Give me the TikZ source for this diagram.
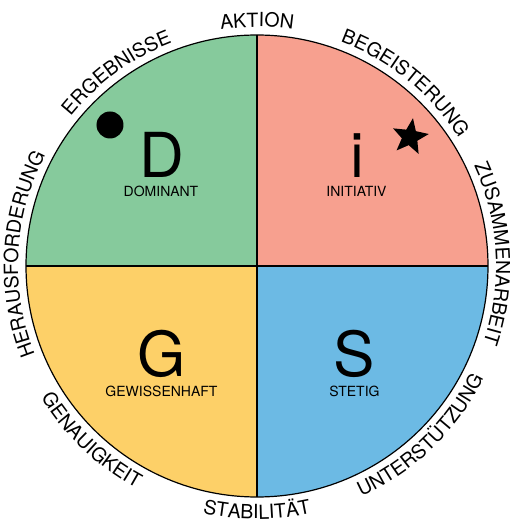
\documentclass[tikz,border=0pt]{standalone}
\usepackage{fontspec}
\setmainfont{TeX Gyre Heros}
\usepackage{tikz}
\usetikzlibrary{decorations.text,shapes.geometric}

\definecolor{dgreen}{RGB}{134,202,156}
\definecolor{ired}{RGB}{247,160,143}
\definecolor{gyellow}{RGB}{253,208,104}
\definecolor{sblue}{RGB}{108,186,228}

\begin{document}
\begin{tikzpicture}
        [every node/.style={inner sep=0pt,anchor=base},
         bigletter/.style={font=\fontsize{62}{62}\selectfont},
         typename/.style={font=\fontsize{14}{14}\selectfont},
         ringtext/.style={decorate,decoration={text along path,text align=center,
           text={|\fontsize{19.5}{20}\selectfont|#1}}}]
        \useasboundingbox (-257pt,-261pt) rectangle (252pt,266pt);

        \coordinate (c) at (0,0);
        \coordinate (top) at (90:231pt);
        \coordinate (left) at (180:231pt);
        \coordinate (bottom) at (270:231pt);
        \coordinate (right) at (0:231pt);

        % quadrants
        \fill[dgreen] (c) -- (top) arc (90:180:231pt) -- cycle;
        \fill[ired] (c) -- (right) arc (0:90:231pt) -- cycle;
        \fill[gyellow] (c) -- (left) arc (180:270:231pt) -- cycle;
        \fill[sblue] (c) -- (bottom) arc (270:360:231pt) -- cycle;

        \draw[line width=2pt] (left) -- (right);
        \draw[line width=2pt] (top) -- (bottom);
        \draw[line width=1.2pt] (c) circle (231pt);

        % words round the circle
        \path[ringtext=AKTION] (110:239pt) arc (110:70:239pt);
        \path[ringtext=ERGEBNISSE] (156:239pt) arc (156:96:239pt);
        \path[ringtext=BEGEISTERUNG] (81:239pt) arc (81:21:239pt);
        \path[ringtext=ZUSAMMENARBEIT] (33:239pt) arc (33:-27:239pt);
        \path[ringtext=HERAUSFORDERUNG] (207:239pt) arc (207:147:239pt);
        \path[ringtext=UNTERSTÜTZUNG] (-76:253pt) arc (-76:-16:253pt);
        \path[ringtext=STABILITÄT] (245:253pt) arc (245:295:253pt);
        \path[ringtext=GENAUIGKEIT] (201.5:253pt) arc (201.5:251.5:253pt);

        % letters
        \node[bigletter] (D) at (-95pt,88pt) {D};
        \node[typename] (Dname) at (-96pt,69pt) {DOMINANT};
        \node[bigletter] (i) at (100pt,88pt) {i};
        \node[typename] (iname) at (99.5pt,69pt) {INITIATIV};
        \node[bigletter] (G) at (-95.5pt,-110pt) {G};
        \node[typename] (Gname) at (-95.5pt,-130pt) {GEWISSENHAFT};
        \node[bigletter] (S) at (97pt,-110pt) {S};
        \node[typename] (Sname) at (97.5pt,-130pt) {STETIG};

        \node[circle,fill=black,minimum size=27pt,anchor=center] (dot) at (-147pt,141pt) {};
        \node[star,star points=5,star point ratio=2.3,fill=black,minimum size=38pt,
          rotate=-9,anchor=center] (star) at (153pt,129pt) {};
    \end{tikzpicture}
\end{document}
